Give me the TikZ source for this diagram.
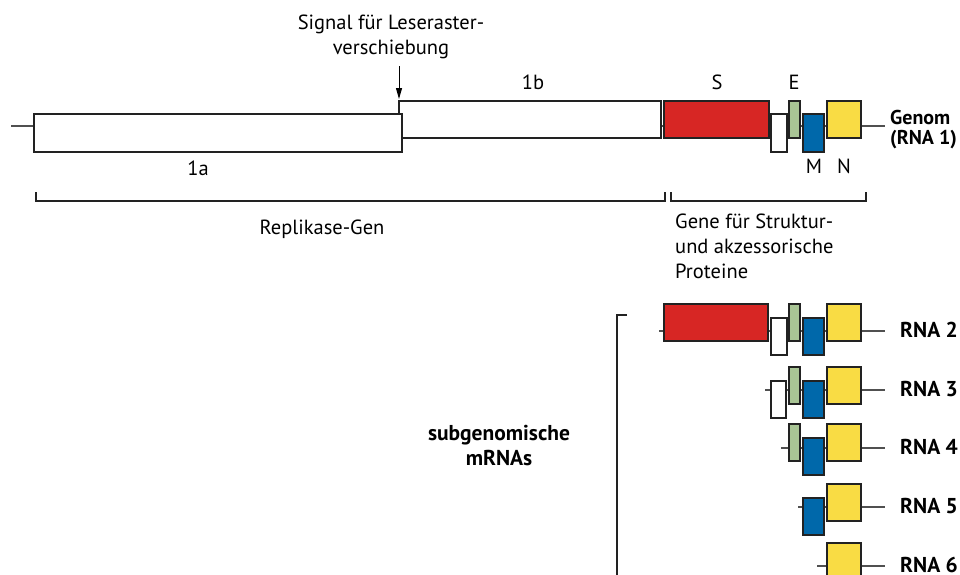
\documentclass[tikz,border=0pt]{standalone}
\usepackage{fontspec}
\setmainfont{PT Sans}
\usetikzlibrary{arrows.meta}
\definecolor{sred}{HTML}{D72624}
\definecolor{egreen}{HTML}{A9C595}
\definecolor{mblue}{HTML}{0068AA}
\definecolor{nyellow}{HTML}{F9DC44}
\definecolor{rnagray}{HTML}{505050}
\definecolor{edge}{HTML}{222222}

\begin{document}
\begin{tikzpicture}[x=1pt,y=-1pt,
    rna/.style={draw=rnagray,line width=1.5pt},
    gene/.style={draw=edge,line width=1.3pt},
    brace/.style={draw=edge,line width=1.8pt},
    lbl/.style={inner sep=0pt,font=\fontsize{20.5}{25}\selectfont},
    rnalbl/.style={inner sep=0pt,font=\fontsize{21.5}{25}\selectfont\bfseries}]
\useasboundingbox (0,0) rectangle (960,574);
% genome (RNA 1)
\draw[rna] (11,126) -- (885,126);
\draw[gene,fill=white] (399,101) rectangle (661,138);
\draw[gene,fill=white] (34,114) rectangle (402,152);
\draw[gene,fill=sred] (664,101) rectangle (769,138);
\draw[gene,fill=white] (771,114) rectangle (787,152);
\draw[gene,fill=egreen] (789,101) rectangle (800,138);
\draw[gene,fill=mblue] (803,114) rectangle (824,152);
\draw[gene,fill=nyellow] (827,101) rectangle (861,138);
\node[lbl,anchor=base] (la) at (198,175) {1a};
\node[lbl,anchor=base] (lb) at (533,89) {1b};
\node[lbl,anchor=base] (ls) at (717,89) {S};
\node[lbl,anchor=base] (le) at (794,89) {E};
\node[lbl,anchor=base] (lm) at (814,173) {M};
\node[lbl,anchor=base] (ln) at (844,173) {N};
\node[rnalbl,anchor=north west,align=left,font=\fontsize{20}{20}\selectfont\bfseries] (rna1) at (890,110) {Genom\\(RNA 1)};
% frameshift signal
\node[lbl,anchor=north,align=center] (signal) at (391,15) {Signal für Leseraster-\\verschiebung};
\coordinate (shift) at (399,99);
\draw[-{Triangle[width=6pt,length=11pt]},line width=1pt] (399,66) -- (shift);
% brackets
\draw[brace] (36,192) -- (36,201) -- (665,201) -- (665,192);
\draw[brace] (671,192) -- (671,201) -- (866,201) -- (866,192);
\node[lbl,anchor=base] (repl) at (322,234) {Replikase-Gen};
\node[lbl,anchor=north west,align=left] (struct) at (675,214) {Gene für Struktur-\\und akzessorische\\Proteine};
% subgenomic mRNAs
\draw[brace] (627,315) -- (617,315) -- (617,580);
\node[rnalbl,anchor=north,align=center] (sub) at (499,425) {subgenomische\\mRNAs};
% RNA 2
\draw[rna] (659,331) -- (885,331);
\draw[gene,fill=sred] (664,304) rectangle (768,341);
\draw[gene,fill=white] (771,318) rectangle (787,355);
\draw[gene,fill=egreen] (789,304) rectangle (800,341);
\draw[gene,fill=mblue] (803,318) rectangle (824,355);
\draw[gene,fill=nyellow] (827,304) rectangle (861,341);
\node[rnalbl,anchor=base west] (rna2) at (900,337) {RNA 2};
% RNA 3
\draw[rna] (765,390) -- (885,390);
\draw[gene,fill=white] (771,381) rectangle (786,418);
\draw[gene,fill=egreen] (789,367) rectangle (800,404);
\draw[gene,fill=mblue] (803,381) rectangle (824,418);
\draw[gene,fill=nyellow] (827,367) rectangle (861,404);
\node[rnalbl,anchor=base west] (rna3) at (900,396) {RNA 3};
% RNA 4
\draw[rna] (781,448) -- (885,448);
\draw[gene,fill=egreen] (789,424) rectangle (800,461);
\draw[gene,fill=mblue] (803,438) rectangle (824,475);
\draw[gene,fill=nyellow] (827,424) rectangle (861,461);
\node[rnalbl,anchor=base west] (rna4) at (900,454) {RNA 4};
% RNA 5
\draw[rna] (798,507) -- (885,507);
\draw[gene,fill=mblue] (803,498) rectangle (824,535);
\draw[gene,fill=nyellow] (827,484) rectangle (861,521);
\node[rnalbl,anchor=base west] (rna5) at (900,513) {RNA 5};
% RNA 6
\draw[rna] (817,566) -- (885,566);
\draw[gene,fill=nyellow] (827,543) rectangle (861,580);
\node[rnalbl,anchor=base west] (rna6) at (900,572) {RNA 6};
\end{tikzpicture}
\end{document}
